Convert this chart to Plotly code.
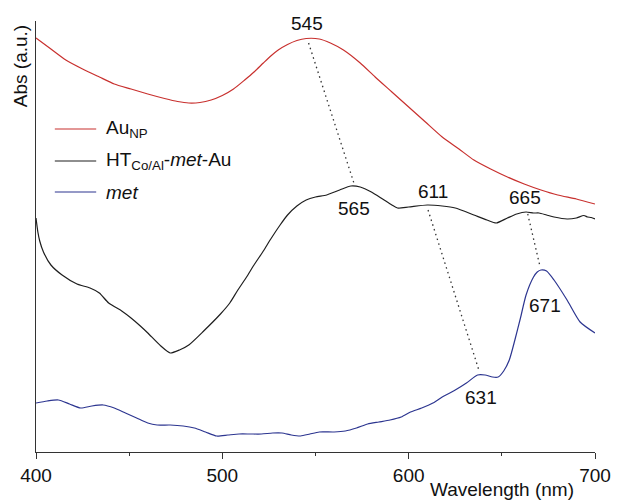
import plotly.graph_objects as go

# ---- data (wavelength nm, absorbance a.u., offset-stacked spectra) ----
au_wl = [400, 408, 416, 425, 434, 442, 451, 460, 469, 476, 482, 488, 494, 500, 506, 512, 517, 522,
         526, 530, 535, 540, 545, 552, 558, 565, 574, 582, 591, 600, 609, 618, 627, 635, 644, 653,
         662, 671, 680, 690, 700]
au_abs = [4.14, 4.03, 3.92, 3.83, 3.75, 3.68, 3.63, 3.58, 3.535, 3.505, 3.49, 3.495, 3.52, 3.565, 3.63,
          3.72, 3.80, 3.89, 3.96, 4.02, 4.075, 4.115, 4.135, 4.13, 4.09, 4.02, 3.89, 3.75, 3.60, 3.45,
          3.30, 3.15, 3.03, 2.92, 2.83, 2.75, 2.68, 2.62, 2.57, 2.53, 2.48]

ht_wl = [400, 401, 402, 404, 408, 414, 422, 429, 434, 439, 446, 451, 456, 460, 467, 472, 477, 482,
         490, 499, 504, 508, 513, 517, 522, 526, 531, 535, 540, 545, 550, 556, 563, 569, 574, 580,
         586, 591, 594, 600, 610, 618, 625, 635, 642, 647, 653, 658, 663, 667, 670, 674, 678, 685,
         690, 694, 696, 698, 700]
ht_abs = [2.34, 2.20, 2.11, 2.00, 1.87, 1.77, 1.68, 1.64, 1.59, 1.49, 1.41, 1.34, 1.26, 1.19, 1.06,
          0.99, 1.02, 1.07, 1.21, 1.38, 1.49, 1.61, 1.75, 1.87, 2.01, 2.13, 2.27, 2.37, 2.46, 2.52,
          2.55, 2.57, 2.62, 2.66, 2.65, 2.60, 2.53, 2.47, 2.44, 2.45, 2.47, 2.46, 2.44, 2.37, 2.32,
          2.29, 2.34, 2.38, 2.40, 2.39, 2.39, 2.37, 2.35, 2.33, 2.34, 2.365, 2.35, 2.345, 2.33]

met_wl = [400, 406, 412, 418, 424, 430, 436, 442, 448, 454, 460, 465, 472, 479, 485, 491, 497, 503,
          509, 515, 521, 527, 532, 537, 542, 547, 552, 560, 566, 572, 578, 584, 590, 596, 601, 607,
          613, 618, 625, 631, 637, 641, 645, 648, 651, 654, 657, 660, 663, 667, 669, 671, 674, 678,
          685, 692, 700]
met_abs = [0.49, 0.51, 0.52, 0.48, 0.44, 0.46, 0.47, 0.44, 0.39, 0.34, 0.29, 0.27, 0.27, 0.26, 0.24,
           0.20, 0.16, 0.17, 0.18, 0.18, 0.18, 0.19, 0.19, 0.17, 0.16, 0.18, 0.20, 0.20, 0.21, 0.24,
           0.28, 0.30, 0.32, 0.35, 0.40, 0.44, 0.49, 0.55, 0.62, 0.69, 0.77, 0.77, 0.75, 0.75, 0.81,
           0.92, 1.12, 1.34, 1.57, 1.75, 1.80, 1.82, 1.81, 1.72, 1.52, 1.30, 1.19]

series_names = ["Au<sub>NP</sub>", "HT<sub>Co/Al</sub>-<i>met</i>-Au", "<i>met</i>"]
series_colors = ["#c8302e", "#1e1e1e", "#2c3590"]

# peak labels: (text, x, y)
peak_labels = [("545", 545.2, 4.29), ("565", 570.6, 2.44), ("611", 613.0, 2.61),
               ("665", 662.3, 2.55), ("671", 673.4, 1.47), ("631", 639.0, 0.55)]
# dotted connectors: (x0, y0, x1, y1)
connectors = [(546.3, 4.09, 570.6, 2.69), (610.4, 2.42, 638.0, 0.80), (663.9, 2.38, 670.3, 1.87)]

x_ticks = [400, 500, 600, 700]

FONT = "Liberation Sans, Arial, sans-serif"

fig = go.Figure()
for wl, ab, col in [(au_wl, au_abs, series_colors[0]), (ht_wl, ht_abs, series_colors[1]),
                    (met_wl, met_abs, series_colors[2])]:
    fig.add_trace(go.Scatter(x=wl, y=ab, mode="lines", showlegend=False, hoverinfo="skip",
                             line=dict(color=col, width=1.2, shape="spline", smoothing=0.6)))

for (x0, y0, x1, y1) in connectors:
    fig.add_shape(type="line", x0=x0, y0=y0, x1=x1, y1=y1, xref="x", yref="y",
                  line=dict(color="#333", width=1.3, dash="1.5px,3.5px"))

for (t, x, y) in peak_labels:
    fig.add_annotation(x=x, y=y, text=t, showarrow=False, xref="x", yref="y",
                       font=dict(family=FONT, size=19, color="#111"))

# manual legend
leg_y = [3.23, 2.91, 2.60]
for name, col, ly in zip(series_names, series_colors, leg_y):
    fig.add_shape(type="line", x0=410.1, x1=432.3, y0=ly, y1=ly, xref="x", yref="y",
                  line=dict(color=col, width=1.2))
    fig.add_annotation(x=436.6, y=ly, text=name, showarrow=False, xref="x", yref="y",
                       xanchor="left", yanchor="middle", yshift=0,
                       font=dict(family=FONT, size=19, color="#111"))

fig.add_annotation(x=-0.028, y=0.896, xref="paper", yref="paper", text="Abs (a.u.)",
                   textangle=-90, showarrow=False, xanchor="center", yanchor="middle",
                   font=dict(family=FONT, size=19, color="#111"))
fig.add_annotation(x=0.834, y=-0.086, xref="paper", yref="paper", text="Wavelength (nm)",
                   showarrow=False, xanchor="center", yanchor="middle",
                   font=dict(family=FONT, size=19, color="#111"))

fig.update_layout(
    width=623, height=501,
    margin=dict(l=36, r=21, t=21, b=49),
    paper_bgcolor="white", plot_bgcolor="white",
    hovermode=False,
    xaxis=dict(range=[400, 700], tickvals=x_ticks, ticks="outside", ticklen=6, tickwidth=1.2,
               tickcolor="#333", showline=True, linecolor="#333", linewidth=1.3,
               showgrid=False, zeroline=False,
               tickfont=dict(family=FONT, size=19, color="#111"),
               minor=dict(tickvals=[450, 550, 650], ticks="outside", ticklen=3, tickcolor="#333")),
    yaxis=dict(range=[0, 4.31], showticklabels=False, ticks="", showline=True, linecolor="#333",
               linewidth=1.3, showgrid=False, zeroline=False),
)

fig.write_html("out.html", config={"displayModeBar": False},
               post_script="document.body.style.margin='0';document.body.style.padding='0';")
